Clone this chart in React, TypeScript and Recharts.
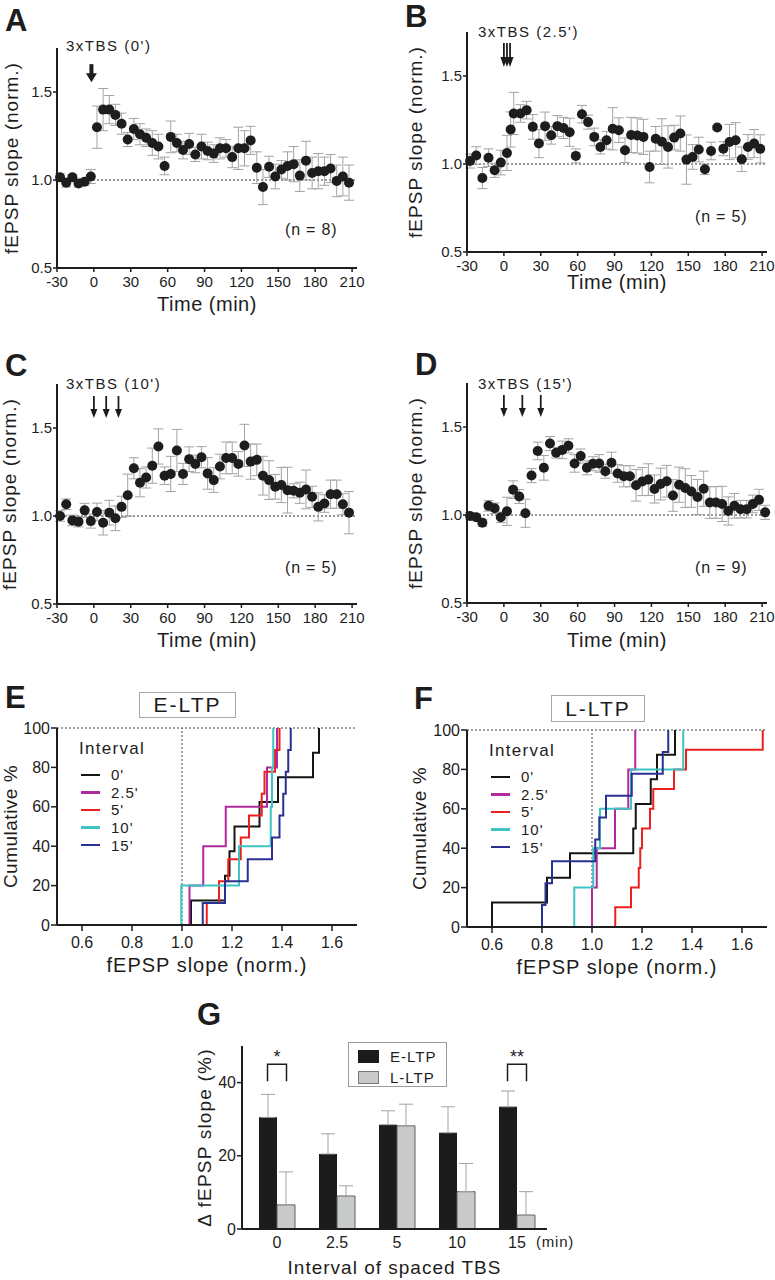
import React from "react";
import {
  ScatterChart,
  Scatter,
  XAxis,
  YAxis,
  ErrorBar,
  ReferenceLine,
  ReferenceDot,
  LineChart,
  Line,
  Legend,
  BarChart,
  Bar,
} from "recharts";

const FONT = "Arial, 'Liberation Sans', Helvetica, sans-serif";
const INK = "#1d1d1d";
const ERR = "#a3a3a3";

// ---------- A-D: time courses (fEPSP slope, normalised) ----------
const timeTicks = [-30, 0, 30, 60, 90, 120, 150, 180, 210];

const timesAC = [
  -27.5, -22.5, -17.5, -12.5, -7.5, -2.5, 2.5, 7.5, 12.5, 17.5, 22.5, 27.5,
  32.5, 37.5, 42.5, 47.5, 52.5, 57.5, 62.5, 67.5, 72.5, 77.5, 82.5, 87.5,
  92.5, 97.5, 102.5, 107.5, 112.5, 117.5, 122.5, 127.5, 132.5, 137.5, 142.5,
  147.5, 152.5, 157.5, 162.5, 167.5, 172.5, 177.5, 182.5, 187.5, 192.5, 197.5,
  202.5, 207.5,
];

const slopeA = [
  1.015, 0.985, 1.015, 0.98, 0.99, 1.02, 1.3, 1.4, 1.4, 1.37, 1.32, 1.23, 1.29,
  1.26, 1.24, 1.21, 1.19, 1.08, 1.245, 1.21, 1.17, 1.205, 1.145, 1.19, 1.165,
  1.15, 1.18, 1.18, 1.13, 1.18, 1.18, 1.225, 1.07, 0.96, 1.075, 1.02, 1.06,
  1.08, 1.09, 1.025, 1.11, 1.04, 1.05, 1.05, 1.065, 0.995, 1.02, 0.985,
];
const semA = [
  0.02, 0.025, 0.015, 0.02, 0.02, 0.04, 0.12, 0.12, 0.08, 0.06, 0.06, 0.04,
  0.06, 0.06, 0.05, 0.07, 0.07, 0.05, 0.09, 0.05, 0.05, 0.06, 0.04, 0.07, 0.05,
  0.05, 0.06, 0.05, 0.06, 0.12, 0.1, 0.08, 0.09, 0.1, 0.06, 0.07, 0.05, 0.08,
  0.1, 0.09, 0.11, 0.09, 0.1, 0.08, 0.08, 0.09, 0.11, 0.1,
];

const timesB = [
  -27.5, -22.5, -17.5, -12.5, -7.5, -2.5, 2.5, 5.5, 8, 13.5, 18.5, 23.5, 28.5,
  33.5, 38.5, 43.5, 48.5, 53.5, 58.5, 63.5, 68.5, 73.5, 78.5, 83.5, 88.5, 93.5,
  98.5, 103.5, 108.5, 113.5, 118.5, 123.5, 128.5, 133.5, 138.5, 143.5, 148.5,
  153.5, 158.5, 163.5, 168.5, 173.5, 178.5, 183.5, 188.5, 193.5, 198.5, 203.5,
  208.5,
];
const slopeB = [
  1.017, 1.048, 0.92, 1.036, 0.964, 1.008, 1.063, 1.196, 1.287, 1.287, 1.306,
  1.211, 1.116, 1.215, 1.163, 1.215, 1.205, 1.18, 1.046, 1.283, 1.238, 1.154,
  1.097, 1.135, 1.2, 1.192, 1.078, 1.165, 1.162, 1.154, 0.983, 1.143, 1.127,
  1.097, 1.15, 1.173, 1.025, 1.04, 1.082, 0.97, 1.074, 1.207, 1.087, 1.125,
  1.135, 1.027, 1.097, 1.116, 1.086,
];
const semB = [
  0.04, 0.05, 0.06, 0.05, 0.04, 0.07, 0.1, 0.1, 0.12, 0.05, 0.05, 0.07, 0.08,
  0.08, 0.05, 0.06, 0.06, 0.08, 0.04, 0.05, 0.04, 0.05, 0.04, 0.05, 0.12, 0.07,
  0.07, 0.1, 0.1, 0.1, 0.09, 0.07, 0.13, 0.12, 0.07, 0.1, 0.14, 0.07, 0.07,
  0.03, 0.05, 0.01, 0.04, 0.1, 0.1, 0.07, 0.07, 0.08, 0.08,
];

const slopeC = [
  1.0, 1.067, 0.975, 0.968, 1.032, 0.971, 1.023, 0.962, 1.019, 0.987, 1.052,
  1.118, 1.271, 1.189, 1.219, 1.286, 1.395, 1.229, 1.239, 1.372, 1.239, 1.323,
  1.296, 1.334, 1.242, 1.204, 1.281, 1.33, 1.33, 1.296, 1.401, 1.309, 1.319,
  1.229, 1.204, 1.166, 1.176, 1.147, 1.143, 1.132, 1.151, 1.109, 1.052, 1.071,
  1.124, 1.124, 1.067, 1.019,
];
const semC = [
  0.03, 0.03, 0.03, 0.03, 0.04, 0.04, 0.05, 0.07, 0.07, 0.07, 0.06, 0.12, 0.06,
  0.08, 0.06, 0.1, 0.1, 0.05, 0.1, 0.12, 0.06, 0.07, 0.05, 0.06, 0.09, 0.07,
  0.07, 0.09, 0.09, 0.07, 0.12, 0.1, 0.09, 0.11, 0.11, 0.07, 0.1, 0.13, 0.04,
  0.06, 0.11, 0.06, 0.08, 0.05, 0.08, 0.08, 0.06, 0.12,
];

const timesD = [...timesAC, 212.5];
const slopeD = [
  0.994, 0.987, 0.956, 1.052, 1.038, 0.987, 1.021, 1.144, 1.105, 1.01, 1.224,
  1.364, 1.268, 1.406, 1.354, 1.37, 1.393, 1.293, 1.335, 1.268, 1.291, 1.293,
  1.249, 1.297, 1.236, 1.22, 1.22, 1.169, 1.19, 1.201, 1.148, 1.176, 1.192,
  1.111, 1.172, 1.153, 1.134, 1.102, 1.149, 1.071, 1.071, 1.063, 1.023, 1.052,
  1.033, 1.033, 1.063, 1.086, 1.015,
];
const semD = [
  0.02, 0.02, 0.02, 0.03, 0.03, 0.03, 0.08, 0.05, 0.04, 0.08, 0.04, 0.05, 0.07,
  0.04, 0.03, 0.05, 0.04, 0.05, 0.04, 0.04, 0.04, 0.05, 0.04, 0.06, 0.05, 0.06,
  0.06, 0.09, 0.08, 0.09, 0.08, 0.09, 0.09, 0.09, 0.1, 0.11, 0.09, 0.1, 0.1,
  0.09, 0.09, 0.1, 0.08, 0.07, 0.05, 0.05, 0.05, 0.06, 0.04,
];

// TBS delivery times (min) for each protocol
const tbsA = [-2];
const tbsB = [0, 2.5, 5];
const tbsC = [0, 10, 20];
const tbsD = [0, 15, 30];

// ---------- E/F: cumulative distributions ----------
const intervalNames = ["0'", "2.5'", "5'", "10'", "15'"];
const intervalColors = ["#151515", "#b02a9c", "#ee1f1f", "#3fc3c3", "#2b3193"];
const slopeTicks = [0.6, 0.8, 1.0, 1.2, 1.4, 1.6];

const eltp0 = [1.036, 1.172, 1.19, 1.21, 1.31, 1.384, 1.524, 1.548];
const eltp25 = [1.03, 1.085, 1.175, 1.34, 1.38];
const eltp5 = [1.099, 1.148, 1.185, 1.235, 1.268, 1.319, 1.33, 1.372, 1.39];
const eltp10 = [0.997, 1.228, 1.355, 1.36, 1.365];
const eltp15 = [1.083, 1.172, 1.263, 1.36, 1.39, 1.405, 1.415, 1.425, 1.435];

const lltp0 = [0.6, 0.82, 0.912, 1.165, 1.175, 1.235, 1.26, 1.332];
const lltp25 = [1.0, 1.019, 1.092, 1.145, 1.173];
const lltp5 = [1.093, 1.156, 1.187, 1.193, 1.2, 1.232, 1.245, 1.328, 1.376, 1.683];
const lltp10 = [0.929, 1.005, 1.032, 1.156, 1.365];
const lltp15 = [0.8, 0.814, 0.84, 1.013, 1.029, 1.056, 1.159, 1.283, 1.305];

// ---------- G: mean change in slope ----------
const gIntervals = ["0", "2.5", "5", "10", "15"];
const gEltp = [30.5, 20.5, 28.5, 26.3, 33.4];
const gEltpSem = [6.3, 5.5, 3.8, 7.1, 4.3];
const gLltp = [6.6, 9.0, 28.2, 10.2, 3.8];
const gLltpSem = [9.0, 2.8, 5.9, 7.7, 6.4];

const toPoints = (t: number[], v: number[], s: number[]) =>
  t.map((x, i) => ({ t: x, v: v[i], sem: s[i] }));

// step-function points for an empirical cumulative distribution
function cdf(values: number[]) {
  const n = values.length;
  const pts = [{ x: values[0], y: 0 }];
  values.forEach((v, i) => pts.push({ x: v, y: ((i + 1) / n) * 100 }));
  return pts;
}

const gRows = gIntervals.map((k, i) => ({
  interval: k,
  e: gEltp[i],
  eErr: [0, gEltpSem[i]],
  l: gLltp[i],
  lErr: [0, gLltpSem[i]],
}));

const Dot = (p: any) => <circle cx={p.cx} cy={p.cy} r={5} fill={INK} />;

const arrowShape =
  (len: number, shaft: number, headW: number, headH: number) => (p: any) => {
    const { cx, cy } = p;
    return (
      <g>
        <line x1={cx} y1={cy - len} x2={cx} y2={cy - headH + 1} stroke={INK} strokeWidth={shaft} />
        <path
          d={`M${cx - headW / 2},${cy - headH} L${cx + headW / 2},${cy - headH} L${cx},${cy} Z`}
          fill={INK}
        />
      </g>
    );
  };

const bracketShape = (star: string) => (p: any) => {
  const { cx, cy } = p;
  return (
    <g>
      <path d={`M${cx - 9.5},${cy + 17} V${cy} H${cx + 9.5} V${cy + 17}`} fill="none" stroke={INK} strokeWidth={1.5} />
      <text x={cx} y={cy - 1} textAnchor="middle" fontSize={18} fill={INK}>
        {star}
      </text>
    </g>
  );
};

// axis titles drawn as plain text (no inherited stroke)
const xTitle = (text: string, offset: number, size: number, ls: number) => (p: any) => {
  const vb = p.viewBox;
  return (
    <text
      x={vb.x + vb.width / 2}
      y={vb.y + offset}
      dy="0.71em"
      textAnchor="middle"
      fontSize={size}
      fill={INK}
      stroke="none"
      style={{ letterSpacing: ls }}
    >
      {text}
    </text>
  );
};

const yTitle = (text: string, offset: number, size: number, ls: number) => (p: any) => {
  const vb = p.viewBox;
  const x = vb.x + offset;
  const y = vb.y + vb.height / 2;
  return (
    <text
      x={x}
      y={y}
      dy="0.355em"
      transform={`rotate(-90, ${x}, ${y})`}
      textAnchor="middle"
      fontSize={size}
      fill={INK}
      stroke="none"
      style={{ letterSpacing: ls }}
    >
      {text}
    </text>
  );
};

const axisLine = { stroke: INK, strokeWidth: 2 };
const tickLine = { stroke: INK, strokeWidth: 1.5 };

function TimePanel(props: {
  left: number;
  top: number;
  axisW: number;
  points: any[];
  tbs: number[];
  arrow: (p: any) => React.ReactElement;
  tipY: number;
  xTitleOffset: number;
  yTitleOffset: number;
}) {
  const { left, top, axisW, points, tbs, arrow, tipY, xTitleOffset, yTitleOffset } = props;
  return (
    <div style={{ position: "absolute", left, top }}>
      <ScatterChart width={axisW + 310} height={280} margin={{ top: 10, right: 10, bottom: 0, left: 0 }}>
        <XAxis
          type="number"
          dataKey="t"
          domain={[-30, 214]}
          ticks={timeTicks}
          interval={0}
          height={50}
          axisLine={axisLine}
          tickLine={tickLine}
          tickSize={4}
          tickMargin={4}
          tick={{ fontSize: 15, fill: INK }}
          label={xTitle("Time (min)", xTitleOffset, 20, 0.5)}
        />
        <YAxis
          type="number"
          dataKey="v"
          domain={[0.5, 1.75]}
          ticks={[0.5, 1.0, 1.5]}
          tickFormatter={(v: number) => v.toFixed(1)}
          width={axisW}
          axisLine={axisLine}
          tickLine={tickLine}
          tickSize={4}
          tickMargin={1}
          tick={{ fontSize: 15, fill: INK }}
          label={yTitle("fEPSP slope (norm.)", yTitleOffset, 19, 1)}
        />
        <ReferenceLine y={1} stroke="#333" strokeWidth={1} strokeDasharray="2 2" />
        <Scatter data={points} isAnimationActive={false} shape={Dot}>
          <ErrorBar dataKey="sem" direction="y" width={5} stroke={ERR} strokeWidth={1} />
        </Scatter>
        {tbs.map((t) => (
          <ReferenceDot key={t} x={t} y={tipY} shape={arrow} />
        ))}
      </ScatterChart>
    </div>
  );
}

const IntervalLegend = () => (
  <div style={{ fontFamily: FONT, color: INK, textAlign: "left" }}>
    <div style={{ fontSize: 17, letterSpacing: 1.3, lineHeight: "20px", marginBottom: 7 }}>Interval</div>
    {intervalNames.map((name, i) => (
      <div key={name} style={{ display: "flex", alignItems: "center", height: 17.6 }}>
        <span
          style={{
            display: "inline-block",
            width: 19,
            height: 2.5,
            background: intervalColors[i],
            marginLeft: 2,
            marginRight: 11,
          }}
        />
        <span style={{ fontSize: 15, letterSpacing: 1, lineHeight: "17px" }}>{name}</span>
      </div>
    ))}
  </div>
);

function CdfPanel(props: { left: number; top: number; axisW: number; sets: number[][]; yTitleOffset: number }) {
  const { left, top, axisW, sets, yTitleOffset } = props;
  return (
    <div style={{ position: "absolute", left, top }}>
      <LineChart width={axisW + 310} height={262} margin={{ top: 10, right: 10, bottom: 0, left: 0 }}>
        <XAxis
          type="number"
          dataKey="x"
          domain={[0.5, 1.7]}
          ticks={slopeTicks}
          interval={0}
          tickFormatter={(v: number) => v.toFixed(1)}
          height={55}
          axisLine={axisLine}
          tickLine={tickLine}
          tickSize={6}
          tickMargin={6}
          tick={{ fontSize: 16, fill: INK }}
          label={xTitle("fEPSP slope (norm.)", 33, 20, 1)}
        />
        <YAxis
          type="number"
          dataKey="y"
          domain={[0, 100]}
          ticks={[0, 20, 40, 60, 80, 100]}
          interval={0}
          width={axisW}
          axisLine={axisLine}
          tickLine={tickLine}
          tickSize={6}
          tickMargin={1}
          tick={{ fontSize: 16, fill: INK }}
          label={yTitle("Cumulative %", yTitleOffset, 19, 0.5)}
        />
        <ReferenceLine x={1} stroke="#444" strokeWidth={1} strokeDasharray="2 2" />
        <ReferenceLine y={100} stroke="#444" strokeWidth={1} strokeDasharray="2 2" />
        {sets.map((vals, i) => (
          <Line
            key={intervalNames[i]}
            name={intervalNames[i]}
            data={cdf(vals)}
            dataKey="y"
            type="stepAfter"
            stroke={intervalColors[i]}
            strokeWidth={2}
            dot={false}
            activeDot={false}
            isAnimationActive={false}
          />
        ))}
        <Legend
          layout="vertical"
          align="center"
          verticalAlign="middle"
          wrapperStyle={{ left: axisW + 22, top: 21, width: 110 }}
          content={() => <IntervalLegend />}
        />
      </LineChart>
    </div>
  );
}

const GLegend = () => (
  <div
    style={{
      fontFamily: FONT,
      color: INK,
      border: "1px solid #9c9c9c",
      width: 97,
      height: 43,
      position: "relative",
      boxSizing: "content-box",
    }}
  >
    {[
      { name: "E-LTP", fill: "#1b1b1b" },
      { name: "L-LTP", fill: "#c9cacc" },
    ].map((it, i) => (
      <div key={it.name} style={{ position: "absolute", left: 9, top: 7 + i * 21, display: "flex", alignItems: "center" }}>
        <span
          style={{
            display: "inline-block",
            width: 21,
            height: 13,
            background: it.fill,
            border: i ? "1px solid #777" : "none",
            boxSizing: "border-box",
            marginRight: 11,
          }}
        />
        <span style={{ fontSize: 15, letterSpacing: 1, lineHeight: "13px" }}>{it.name}</span>
      </div>
    ))}
  </div>
);

function Txt(props: { x: number; cy: number; size: number; bold?: boolean; ls?: number; children: React.ReactNode }) {
  const { x, cy, size, bold, ls, children } = props;
  return (
    <div
      style={{
        position: "absolute",
        left: x,
        top: cy - size * 0.49,
        fontSize: size,
        lineHeight: `${size}px`,
        fontWeight: bold ? 700 : 400,
        letterSpacing: ls || 0,
        whiteSpace: "nowrap",
        color: INK,
      }}
    >
      {children}
    </div>
  );
}

function Box(props: { x: number; y: number; w: number; h: number; children: React.ReactNode }) {
  const { x, y, w, h, children } = props;
  return (
    <div
      style={{
        position: "absolute",
        left: x,
        top: y,
        width: w,
        height: h,
        border: "1px solid #a8a8a8",
        boxSizing: "border-box",
        display: "flex",
        alignItems: "center",
        justifyContent: "center",
        fontSize: 21,
        letterSpacing: 2,
        color: INK,
      }}
    >
      {children}
    </div>
  );
}

export default function App() {
  return (
    <div
      style={{
        position: "absolute",
        left: 0,
        top: 0,
        width: 775,
        height: 1280,
        background: "#fff",
        fontFamily: FONT,
        overflow: "hidden",
      }}
    >
      <TimePanel
        left={0}
        top={38}
        axisW={57}
        points={toPoints(timesAC, slopeA, semA)}
        tbs={tbsA}
        arrow={arrowShape(18, 4, 11, 9)}
        tipY={1.556}
        xTitleOffset={29}
        yTitleOffset={11}
      />
      <TimePanel
        left={395}
        top={22}
        axisW={72}
        points={toPoints(timesB, slopeB, semB)}
        tbs={tbsB}
        arrow={arrowShape(24, 1.8, 7, 10)}
        tipY={1.551}
        xTitleOffset={23}
        yTitleOffset={20}
      />
      <TimePanel
        left={0}
        top={374}
        axisW={57}
        points={toPoints(timesAC, slopeC, semC)}
        tbs={tbsC}
        arrow={arrowShape(22, 1.8, 7, 9)}
        tipY={1.557}
        xTitleOffset={29}
        yTitleOffset={9}
      />
      <TimePanel
        left={395}
        top={373}
        axisW={72}
        points={toPoints(timesD, slopeD, semD)}
        tbs={tbsD}
        arrow={arrowShape(22, 1.8, 7, 9)}
        tipY={1.557}
        xTitleOffset={30}
        yTitleOffset={20}
      />

      <CdfPanel left={0} top={718} axisW={57} sets={[eltp0, eltp25, eltp5, eltp10, eltp15]} yTitleOffset={10} />
      <CdfPanel left={395} top={720} axisW={72} sets={[lltp0, lltp25, lltp5, lltp10, lltp15]} yTitleOffset={24} />

      <div style={{ position: "absolute", left: 185, top: 1036 }}>
        <BarChart
          width={372}
          height={248}
          data={gRows}
          margin={{ top: 10, right: 10, bottom: 0, left: 0 }}
          barGap={0}
          barSize={18}
        >
          <XAxis
            dataKey="interval"
            height={55}
            padding={{ left: 5, right: 0 }}
            axisLine={axisLine}
            tickLine={false}
            tickSize={4}
            tickMargin={4}
            tick={{ fontSize: 16, fill: INK }}
            label={xTitle("Interval of spaced TBS", 32, 19, 1)}
          />
          <YAxis
            type="number"
            domain={[0, 50]}
            ticks={[0, 20, 40]}
            width={57}
            axisLine={axisLine}
            tickLine={tickLine}
            tickSize={5}
            tickMargin={1}
            tick={{ fontSize: 16, fill: INK }}
            label={yTitle("Δ fEPSP slope (%)", 19, 19, 1.2)}
          />
          <Bar dataKey="e" name="E-LTP" fill="#1b1b1b" isAnimationActive={false}>
            <ErrorBar dataKey="eErr" direction="y" width={7} stroke={ERR} strokeWidth={1} />
          </Bar>
          <Bar dataKey="l" name="L-LTP" fill="#c9cacc" stroke="#5e5e5e" strokeWidth={1} isAnimationActive={false}>
            <ErrorBar dataKey="lErr" direction="y" width={7} stroke={ERR} strokeWidth={1} />
          </Bar>
          <ReferenceDot x="0" y={45} shape={bracketShape("*")} />
          <ReferenceDot x="15" y={45} shape={bracketShape("**")} />
          <Legend
            layout="vertical"
            align="center"
            verticalAlign="middle"
            wrapperStyle={{ left: 163, top: 6, width: 99 }}
            content={() => <GLegend />}
          />
        </BarChart>
      </div>

      {/* panel letters */}
      <Txt x={5} cy={20} size={31} bold>A</Txt>
      <Txt x={405} cy={16.5} size={31} bold>B</Txt>
      <Txt x={5} cy={365} size={31} bold>C</Txt>
      <Txt x={415} cy={364} size={31} bold>D</Txt>
      <Txt x={5} cy={697} size={31} bold>E</Txt>
      <Txt x={414} cy={698} size={31} bold>F</Txt>
      <Txt x={197} cy={1014} size={31} bold>G</Txt>

      {/* stimulation protocol labels */}
      <Txt x={66} cy={45.5} size={15} ls={1.5}>3xTBS (0')</Txt>
      <Txt x={478} cy={31} size={15} ls={1.5}>3xTBS (2.5')</Txt>
      <Txt x={66} cy={383} size={15} ls={1.5}>3xTBS (10')</Txt>
      <Txt x={478} cy={383} size={15} ls={1.5}>3xTBS (15')</Txt>

      <Txt x={285} cy={230} size={16} ls={0.8}>(n = 8)</Txt>
      <Txt x={695} cy={217} size={16} ls={0.8}>(n = 5)</Txt>
      <Txt x={285} cy={568} size={16} ls={0.8}>(n = 5)</Txt>
      <Txt x={695} cy={568} size={16} ls={0.8}>(n = 9)</Txt>

      <Box x={139} y={692} w={97} h={26}>E-LTP</Box>
      <Box x={551} y={695} w={94} h={27}>L-LTP</Box>

      <Txt x={536} cy={1241} size={15} ls={0.8}>(min)</Txt>
    </div>
  );
}
